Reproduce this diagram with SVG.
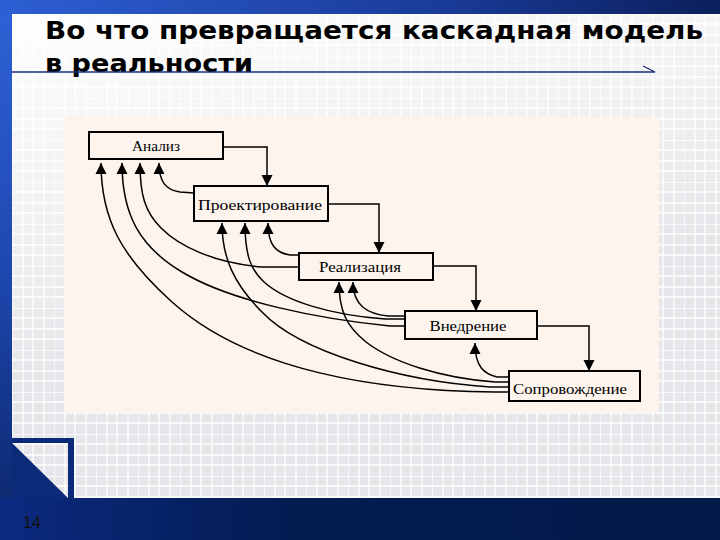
<svg xmlns="http://www.w3.org/2000/svg" width="720" height="540" viewBox="0 0 720 540">
  <defs>
    <style>
      .box { fill: #fdf4ee; stroke: #000; stroke-width: 2; }
      .lbl { font-family: "Liberation Serif", "DejaVu Serif", serif; font-size: 14px; fill: #000; text-anchor: middle; }
      .back { fill: none; stroke: #000; stroke-width: 1.5; marker-end: url(#ah); }
      .fwd { fill: none; stroke: #000; stroke-width: 1.5; marker-end: url(#ah); }
      .title { font-family: "DejaVu Sans", "Liberation Sans", sans-serif; font-weight: bold; font-size: 24px; fill: #000; }
    </style>
    <marker id="ah" viewBox="0 0 12 12" refX="12" refY="6" markerWidth="11" markerHeight="12" markerUnits="userSpaceOnUse" orient="auto">
      <path d="M0,0 L12,6 L0,12 z" fill="#000"/>
    </marker>
    <linearGradient id="topBar" x1="0" y1="0" x2="1" y2="0">
      <stop offset="0" stop-color="#2d5fd4"/>
      <stop offset="0.6" stop-color="#1a3c9a"/>
      <stop offset="1" stop-color="#0b1f5c"/>
    </linearGradient>
    <linearGradient id="leftBar" x1="0" y1="0" x2="0" y2="1">
      <stop offset="0" stop-color="#2f62d8"/>
      <stop offset="0.5" stop-color="#1e48b0"/>
      <stop offset="1" stop-color="#0a2466"/>
    </linearGradient>
    <linearGradient id="botBar" x1="0" y1="0" x2="1" y2="0">
      <stop offset="0" stop-color="#0c2a80"/>
      <stop offset="0.4" stop-color="#031c52"/>
      <stop offset="1" stop-color="#021a48"/>
    </linearGradient>
    <linearGradient id="fade" x1="0" y1="0" x2="0.3" y2="1">
      <stop offset="0" stop-color="#ffffff" stop-opacity="0.95"/>
      <stop offset="0.35" stop-color="#ffffff" stop-opacity="0.5"/>
      <stop offset="0.7" stop-color="#ffffff" stop-opacity="0"/>
    </linearGradient>
    <pattern id="grid" x="12" y="14" width="42" height="42" patternUnits="userSpaceOnUse">
      <rect width="42" height="42" fill="#e6e6ea"/>
      <path d="M0,0 V42 M11,0 V42 M21,0 V42 M32,0 V42 M0,0 H42 M0,10 H42 M0,21 H42 M0,31 H42" stroke="#ffffff" stroke-width="1.3"/>
    </pattern>
  </defs>

  <!-- slide background -->
  <rect x="0" y="0" width="720" height="540" fill="url(#leftBar)"/>
  <rect x="12" y="14" width="708" height="484" fill="url(#grid)"/>
  <rect x="12" y="14" width="708" height="484" fill="url(#fade)"/>
  <rect x="0" y="0" width="720" height="14" fill="url(#topBar)"/>
  <rect x="0" y="498" width="720" height="42" fill="url(#botBar)"/>

  <!-- corner ornament -->
  <path d="M12,438 H74 V498 H68 V443 H12 z" fill="#0b2a78"/>
  <path d="M12,443 L68,498 L12,498 z" fill="#0b2a78"/>

  <!-- title -->
  <text class="title" x="45" y="39" textLength="658" lengthAdjust="spacingAndGlyphs">Во что превращается каскадная модель</text>
  <text class="title" x="45" y="72" textLength="208" lengthAdjust="spacingAndGlyphs">в реальности</text>
  <path d="M12,72 H655 L643,66" fill="none" stroke="#1a2f7a" stroke-width="1.3"/>

  <!-- page number -->
  <text x="23" y="528" font-family="Liberation Sans, DejaVu Sans, sans-serif" font-size="16" fill="#111">14</text>

  <!-- diagram panel -->
  <rect x="64" y="117" width="595" height="296" fill="#fdf4ee"/>

  <g id="connectors">
    <!-- forward flow -->
    <path class="fwd" d="M223,147 H267 V186"/>
    <path class="fwd" d="M328,204 H379 V253"/>
    <path class="fwd" d="M433,266 H476 V311"/>
    <path class="fwd" d="M537,326 H589 V371"/>
    <!-- feedback into Анализ -->
    <path class="back" d="M509,392 L495,392 C380,391 250,372 172,302 C122,257 101,220 101,163"/>
    <path class="back" d="M405,326 L390,326 C320,319 232,302 182,272 C140,247 122,215 122,163"/>
    <path class="back" d="M299,267 L262,267 C215,263 180,247 161,228 C145,212 140,195 140,163"/>
    <path class="back" d="M194,193 L180,192 C166,190 159,182 159,163"/>
    <!-- feedback into Проектирование -->
    <path class="back" d="M509,387 L490,387 C400,381 300,352 262,312 C234,284 222,258 222,223"/>
    <path class="back" d="M405,319 L385,319 C330,315 285,301 264,282 C251,270 245,256 245,223"/>
    <path class="back" d="M299,255 L290,255 C276,253 268,245 268,223"/>
    <!-- feedback into Реализация -->
    <path class="back" d="M509,382 L495,382 C440,378 392,362 366,342 C346,326 339,310 339,282"/>
    <path class="back" d="M405,316 L388,316 C368,314 353,306 353,282"/>
    <!-- feedback into Внедрение -->
    <path class="back" d="M509,377 L497,377 C485,374 475,368 475,343"/>
  </g>

  <g id="analiz">
    <rect class="box" x="89" y="132" width="134" height="27"/>
    <text class="lbl" x="156" y="151" textLength="48" lengthAdjust="spacingAndGlyphs">Анализ</text>
  </g>
  <g id="proektirovanie">
    <rect class="box" x="194" y="186" width="134" height="35"/>
    <text class="lbl" x="260" y="210" font-size="15" textLength="124" lengthAdjust="spacingAndGlyphs">Проектирование</text>
  </g>
  <g id="realizaciya">
    <rect class="box" x="299" y="253" width="134" height="27"/>
    <text class="lbl" x="360" y="272" textLength="82" lengthAdjust="spacingAndGlyphs">Реализация</text>
  </g>
  <g id="vnedrenie">
    <rect class="box" x="405" y="311" width="132" height="28"/>
    <text class="lbl" x="468" y="331" textLength="77" lengthAdjust="spacingAndGlyphs">Внедрение</text>
  </g>
  <g id="soprovozhdenie">
    <rect class="box" x="509" y="371" width="131" height="30"/>
    <text class="lbl" x="570" y="394" textLength="114" lengthAdjust="spacingAndGlyphs">Сопровождение</text>
  </g>
</svg>
